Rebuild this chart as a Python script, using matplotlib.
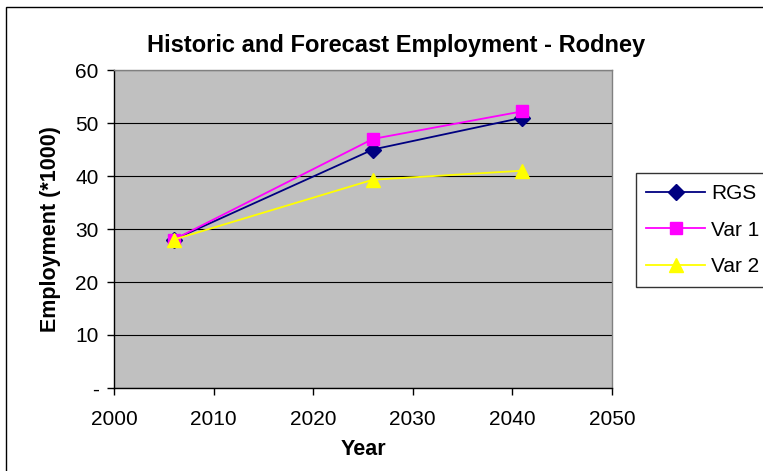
import matplotlib
matplotlib.use("Agg")
import matplotlib.pyplot as plt
from matplotlib.patches import Rectangle

plt.rcParams['font.family'] = ['Liberation Sans', 'DejaVu Sans']

# Data
years = [2006, 2026, 2041]
rgs = [28, 45, 51]
var1 = [28, 47, 52.2]
var2 = [28, 39.3, 41]
series_names = ["RGS", "Var 1", "Var 2"]
x_ticks = [2000, 2010, 2020, 2030, 2040, 2050]
y_ticks = [0, 10, 20, 30, 40, 50, 60]
y_tick_labels = ["-", "10", "20", "30", "40", "50", "60"]

W, H = 763, 471
fig = plt.figure(figsize=(W / 100, H / 100), dpi=100)
fig.patch.set_facecolor("white")

# Outer chart border
fig.patches.append(Rectangle((6 / W, -0.01), 1.0, 1 - 7 / H + 0.01,
                             transform=fig.transFigure, fill=False,
                             edgecolor="black", linewidth=1.0, clip_on=False))

ax = fig.add_axes([114 / W, 1 - 388 / H, 498 / W, 318 / H])
ax.set_facecolor("#C0C0C0")

ax.plot(years, rgs, color="#000080", marker="D", markersize=8.5, linewidth=1.3,
        label=series_names[0], zorder=3)
ax.plot(years, var1, color="#FF00FF", marker="s", markersize=8, linewidth=1.3,
        label=series_names[1], zorder=4)
ax.plot(years, var2, color="#FFFF00", marker="^", markersize=10, linewidth=1.3,
        label=series_names[2], zorder=5)

ax.set_xlim(2000, 2050)
ax.set_ylim(0, 60)
ax.set_xticks(x_ticks)
ax.set_yticks(y_ticks)
ax.set_yticklabels(y_tick_labels)
ax.yaxis.grid(True, color="black", linewidth=0.8)
ax.set_axisbelow(True)

for s in ["top", "right"]:
    ax.spines[s].set_color("#808080")
    ax.spines[s].set_linewidth(1.0)
for s in ["left", "bottom"]:
    ax.spines[s].set_color("black")
    ax.spines[s].set_linewidth(1.0)

ax.tick_params(axis="both", direction="out", length=5, width=1.0,
               labelsize=15, colors="black", pad=6)
ax.tick_params(axis="x", pad=11)

# Chart title, centred over the whole chart area
fig.text(396 / W, 1 - 52 / H, "Historic and Forecast Employment - Rodney",
         fontsize=17, fontweight="bold", ha="center", va="baseline")
ax.set_xlabel("Year", fontsize=15.5, fontweight="bold", labelpad=7)
ax.set_ylabel("Employment (*1000)", fontsize=15.5, fontweight="bold", labelpad=10)

leg = fig.legend(loc="center left", bbox_to_anchor=(636 / W, 1 - 230 / H),
                 fontsize=15, frameon=True, fancybox=False, shadow=False,
                 handlelength=2.8, labelspacing=0.85, borderpad=0.5,
                 handletextpad=0.3, borderaxespad=0)
leg.get_frame().set_edgecolor("black")
leg.get_frame().set_linewidth(1.0)

fig.savefig("out.png", dpi=100)
